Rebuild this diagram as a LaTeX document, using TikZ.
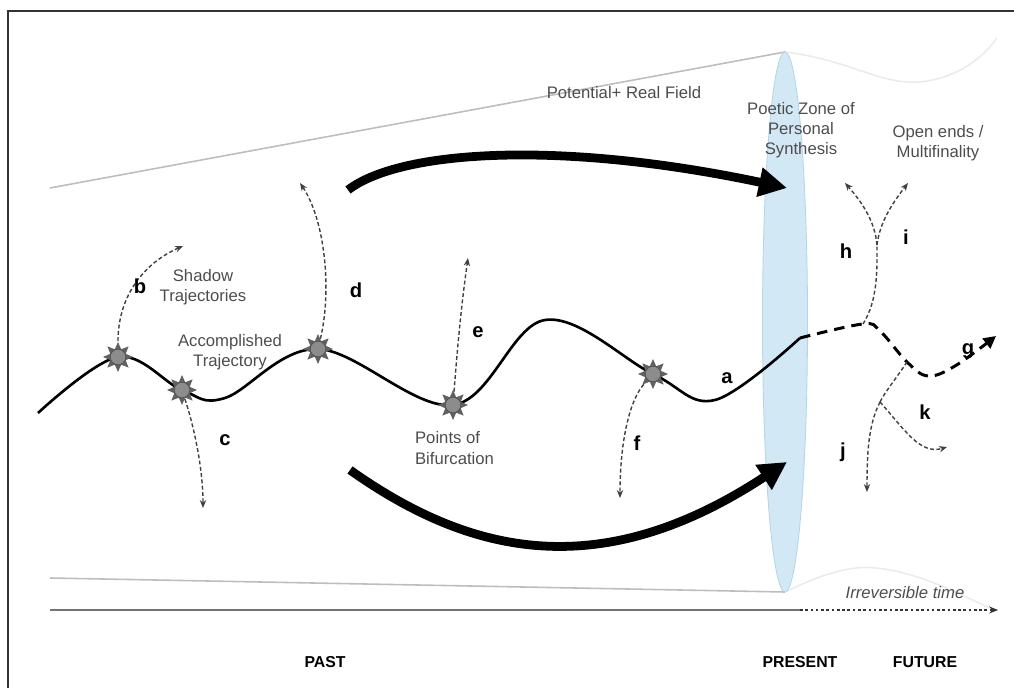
\documentclass[tikz,border=0pt]{standalone}
\usepackage{fontspec}
\setmainfont{Liberation Sans}
\usetikzlibrary{arrows.meta,shapes.geometric}

\definecolor{txtgray}{HTML}{4D4D4D}
\definecolor{lensblue}{HTML}{D3E8F5}
\definecolor{lensedge}{HTML}{B4D6EC}
\definecolor{conegray}{HTML}{BDBDBD}

\begin{document}
\begin{tikzpicture}[
    x=0.02cm, y=-0.02cm,
    >=Stealth,
    descr/.style = {
      text = txtgray,
      font = \fontsize{9.5}{11.5}\selectfont,
      align = center,
      inner sep = 1pt
    },
    letter/.style = {
      font = \fontsize{11.5}{13}\selectfont\bfseries,
      inner sep = 1pt
    },
    axislabel/.style = {
      font = \fontsize{9}{11}\selectfont\bfseries,
      inner sep = 1pt
    },
    bifpoint/.style = {
      star,
      star points = 8,
      star point ratio = 1.8,
      minimum size = 0.6cm,
      inner sep = 0pt,
      fill = black!62,
      path picture = {\filldraw[fill=black!45,draw=black!70,line width=0.3pt]
        (path picture bounding box.center) circle (0.155cm);}
    },
    traj/.style = {line width=1.5pt, black},
    future/.style = {line width=1.7pt, black, dash pattern=on 6pt off 4pt},
    shadowtraj/.style = {
      line width = 0.8pt,
      black!75,
      dash pattern = on 2.2pt off 1.4pt,
      -{Stealth[length=4.5pt,width=3.6pt]}
    },
    field/.style = {line width=5pt, -{Triangle[length=16pt,width=16pt]}}
  ]
\useasboundingbox (0,0) rectangle (1014,688);

% frame
\draw[line width=1.4pt,black!80] (8,688) -- (8,11) -- (1014,11);

% cone of the field
\draw[conegray,line width=0.9pt] (50,188) -- (785,52);
\draw[conegray,line width=0.9pt] (50,578) -- (785,592);
\draw[black!8,line width=0.9pt] (785,52) .. controls (850,60) and (880,85) .. (920,82)
  .. controls (960,78) and (985,55) .. (997,38);
\draw[black!8,line width=0.9pt] (785,592) .. controls (820,575) and (850,565) .. (875,568)
  .. controls (920,572) and (960,595) .. (990,608);

% poetic zone
\node[ellipse, fill=lensblue, draw=lensedge, line width=0.5pt,
      minimum width=0.9cm, minimum height=10.8cm, inner sep=0pt] (zone) at (785,322) {};

% potential + real field
\coordinate (fieldA) at (348,190);
\coordinate (fieldB) at (787,188);
\coordinate (fieldC) at (350,470);
\coordinate (fieldD) at (787,462);
\draw[field] (fieldA) .. controls (400,150) and (560,140) .. (fieldB);
\draw[field] (fieldC) .. controls (470,555) and (600,585) .. (fieldD);

% accomplished trajectory
\coordinate (p1) at (118,357);
\coordinate (p2) at (182,390);
\coordinate (p3) at (318,349);
\coordinate (p4) at (453,405);
\coordinate (p5) at (653,374);
\coordinate (now) at (800,338);
\draw[traj] plot[smooth, tension=0.6] coordinates
  {(38,413) (p1) (p2) (225,398) (p3) (p4) (545,320) (p5) (715,400) (now)};

% future
\coordinate (fork1) at (863,324);
\coordinate (fork2) at (907,362);
\coordinate (gend) at (996,336);
\draw[future,-{Triangle[length=7pt,width=7pt]}] plot[smooth, tension=0.6] coordinates
  {(now) (fork1) (880,331) (fork2) (928,376) (955,366) (gend)};

% shadow trajectories
\coordinate (bend) at (183,246);
\coordinate (cend) at (203,508);
\coordinate (dend) at (300,183);
\coordinate (eend) at (468,258);
\coordinate (fend) at (620,498);
\coordinate (hfork) at (877,245);
\coordinate (hend) at (845,183);
\coordinate (iend) at (908,183);
\coordinate (jfork) at (880,402);
\coordinate (jend) at (867,492);
\coordinate (kend) at (947,447);

\node[bifpoint] (s1) at (p1) {};
\node[bifpoint] (s2) at (p2) {};
\node[bifpoint] (s3) at (p3) {};
\node[bifpoint] (s4) at (p4) {};
\node[bifpoint] (s5) at (p5) {};

\draw[shadowtraj] (s1) .. controls (118,300) and (140,265) .. (bend);
\draw[shadowtraj] (s2) .. controls (195,430) and (203,470) .. (cend);
\draw[shadowtraj] (s3) .. controls (332,290) and (325,220) .. (dend);
\draw[shadowtraj] (s4) .. controls (458,340) and (462,300) .. (eend);
\draw[shadowtraj] (s5) .. controls (630,400) and (620,440) .. (fend);
\draw[shadowtraj,-] (fork1) .. controls (878,300) and (877,270) .. (hfork);
\draw[shadowtraj] (hfork) .. controls (875,220) and (860,200) .. (hend);
\draw[shadowtraj] (hfork) .. controls (880,220) and (895,200) .. (iend);
\draw[shadowtraj,-] (fork2) .. controls (895,380) and (885,392) .. (jfork);
\draw[shadowtraj] (jfork) .. controls (868,425) and (867,455) .. (jend);
\draw[shadowtraj] (jfork) .. controls (905,430) and (920,455) .. (kend);

% letters
\node[letter] (la) at (727,378) {a};
\node[letter] (lb) at (140,286) {b};
\node[letter] (lc) at (225,440) {c};
\node[letter] (ld) at (356,290) {d};
\node[letter] (le) at (478,332) {e};
\node[letter] (lf) at (637,443) {f};
\node[letter] (lg) at (968,351) {g};
\node[letter] (lh) at (846,251) {h};
\node[letter] (li) at (906,237) {i};
\node[letter] (lj) at (843,452) {j};
\node[letter] (lk) at (925,412) {k};

% texts
\node[descr] (shadow) at (203,287) {Shadow\\Trajectories};
\node[descr] (accomp) at (230,352) {Accomplished\\Trajectory};
\node[descr, anchor=west, align=left] (bifurc) at (413,448) {Points of\\Bifurcation};
\node[descr] (fieldtxt) at (624,93) {Potential+ Real Field};
\node[descr] (poetic) at (801,130) {Poetic Zone of\\Personal\\Synthesis};
\node[descr] (openends) at (938,143) {Open ends /\\Multifinality};

% time axis
\coordinate (past0) at (50,610);
\coordinate (now0) at (800,610);
\coordinate (fut0) at (998,610);
\draw[black!55,line width=1.2pt] (past0) -- (now0);
\draw[black!80,line width=0.9pt,dash pattern=on 1.5pt off 1.5pt,
      -{Stealth[length=5pt,width=4pt]}] (now0) -- (fut0);
\node[descr, font=\fontsize{9.5}{11.5}\selectfont\itshape] (irrev) at (905,593) {Irreversible time};
\node[axislabel] (past) at (325,662) {PAST};
\node[axislabel] (present) at (800,662) {PRESENT};
\node[axislabel] (future) at (925,662) {FUTURE};

\end{tikzpicture}
\end{document}
